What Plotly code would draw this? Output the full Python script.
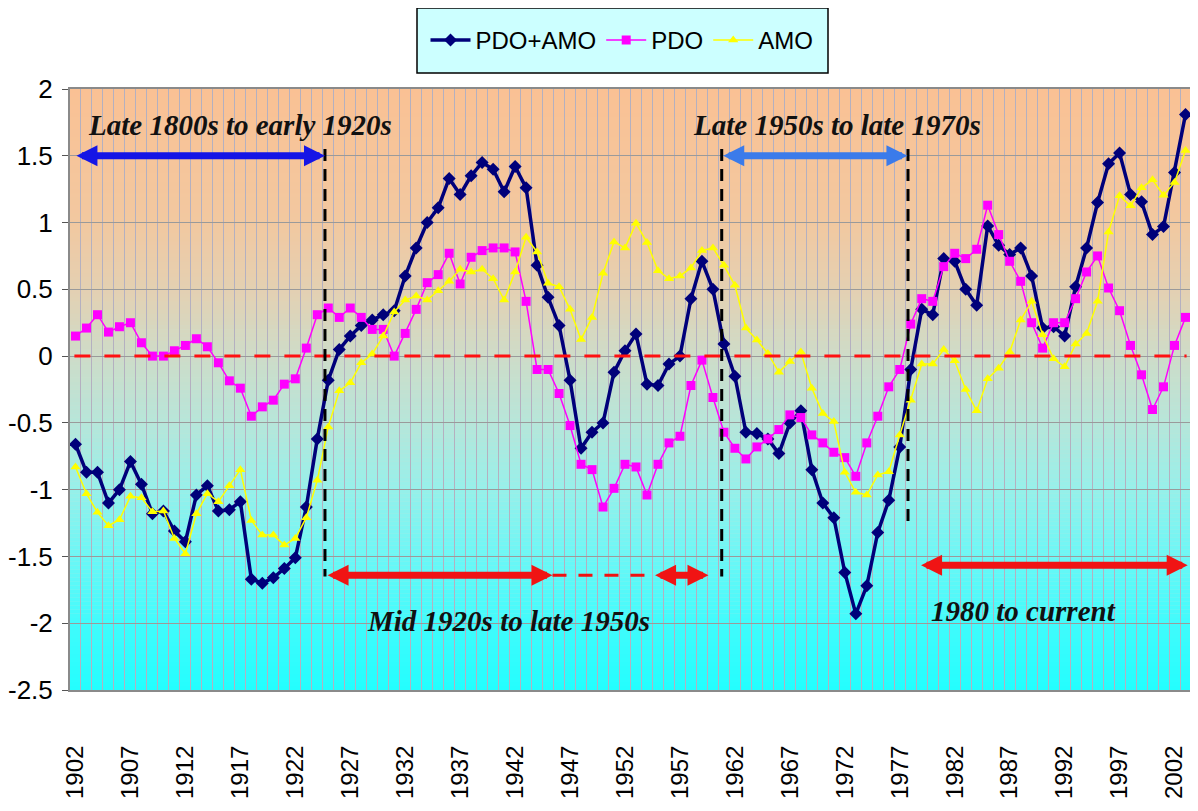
import numpy as np
import plotly.graph_objects as go

years = list(range(1902, 2004))

pdo_amo = [-0.66, -0.87, -0.87, -1.10, -1.00, -0.79, -0.96, -1.18, -1.16, -1.31,
           -1.39, -1.04, -0.97, -1.16, -1.15, -1.09, -1.67, -1.70, -1.66, -1.59,
           -1.51, -1.13, -0.62, -0.18, 0.05, 0.15, 0.23, 0.27, 0.31, 0.34,
           0.60, 0.81, 1.00, 1.11, 1.33, 1.21, 1.35, 1.45, 1.40, 1.23,
           1.42, 1.26, 0.68, 0.44, 0.23, -0.18, -0.69, -0.57, -0.50, -0.12,
           0.04, 0.165, -0.21, -0.22, -0.06, 0.00, 0.43, 0.71, 0.50, 0.09,
           -0.15, -0.57, -0.58, -0.62, -0.73, -0.50, -0.41, -0.85, -1.10, -1.21,
           -1.62, -1.93, -1.72, -1.32, -1.08, -0.68, -0.10, 0.35, 0.31, 0.73,
           0.71, 0.50, 0.38, 0.975, 0.83, 0.76, 0.81, 0.60, 0.21, 0.22,
           0.15, 0.52, 0.81, 1.15, 1.44, 1.52, 1.21, 1.155, 0.91, 0.97,
           1.375, 1.81]

pdo = [0.15, 0.21, 0.31, 0.18, 0.22, 0.25, 0.10, 0.00, 0.00, 0.04,
       0.08, 0.13, 0.07, -0.05, -0.185, -0.24, -0.45, -0.38, -0.33, -0.21,
       -0.17, 0.06, 0.31, 0.36, 0.29, 0.36, 0.29, 0.20, 0.20, 0.00,
       0.17, 0.35, 0.55, 0.61, 0.77, 0.54, 0.74, 0.79, 0.81, 0.81,
       0.78, 0.41, -0.10, -0.10, -0.28, -0.52, -0.81, -0.85, -1.13, -0.99,
       -0.81, -0.83, -1.04, -0.81, -0.65, -0.60, -0.22, -0.03, -0.31, -0.57,
       -0.69, -0.77, -0.68, -0.62, -0.55, -0.44, -0.46, -0.59, -0.65, -0.72,
       -0.76, -0.90, -0.65, -0.45, -0.23, -0.10, 0.24, 0.43, 0.41, 0.67,
       0.77, 0.73, 0.80, 1.13, 0.91, 0.71, 0.56, 0.25, 0.06, 0.25,
       0.25, 0.43, 0.63, 0.75, 0.51, 0.34, 0.08, -0.14, -0.40, -0.23,
       0.08, 0.29]

amo = [-0.83, -1.03, -1.17, -1.27, -1.225, -1.05, -1.06, -1.165, -1.16, -1.365,
       -1.48, -1.18, -1.03, -1.09, -0.97, -0.85, -1.23, -1.34, -1.34, -1.415,
       -1.365, -1.21, -0.93, -0.53, -0.26, -0.20, -0.05, 0.015, 0.15, 0.33,
       0.42, 0.45, 0.42, 0.49, 0.56, 0.65, 0.63, 0.65, 0.58, 0.42,
       0.63, 0.89, 0.78, 0.546, 0.52, 0.35, 0.125, 0.29, 0.62, 0.855,
       0.81, 0.995, 0.85, 0.64, 0.58, 0.60, 0.66, 0.79, 0.81, 0.68,
       0.53, 0.21, 0.12, 0.02, -0.12, -0.04, 0.03, -0.24, -0.43, -0.49,
       -0.87, -1.02, -1.04, -0.89, -0.865, -0.59, -0.33, -0.06, -0.06, 0.05,
       -0.035, -0.25, -0.41, -0.17, -0.09, 0.03, 0.27, 0.41, 0.16, -0.02,
       -0.08, 0.09, 0.17, 0.41, 0.93, 1.20, 1.125, 1.26, 1.32, 1.205,
       1.30, 1.54]

tick_years = list(range(1902, 2003, 5))
y_ticks = [2, 1.5, 1, 0.5, 0, -0.5, -1, -1.5, -2, -2.5]
y_ticktext = ["2", "1.5", "1", "0.5", "0", "-0.5", "-1", "-1.5", "-2", "-2.5"]

# page body has an 8px margin: figure placed at (8, 8)
W, H = 1190, 803
ML, MR, MT, MB = 62, 7, 81, 121
PW, PH = W - ML - MR, H - MT - MB

def px_x(fx):
    return (fx - 8 - ML) / PW

def px_y(fy):
    return 1 + (MT - (fy - 8)) / PH

fig = go.Figure()

fig.add_trace(go.Scatter(x=years, y=pdo_amo, name="PDO+AMO", mode="lines+markers",
                         line=dict(color="#00007A", width=3.5),
                         marker=dict(symbol="diamond", size=10, color="#00007A")))
fig.add_trace(go.Scatter(x=years, y=pdo, name="PDO", mode="lines+markers",
                         line=dict(color="#FF00FF", width=1.5),
                         marker=dict(symbol="square", size=9, color="#FF00FF")))
fig.add_trace(go.Scatter(x=years, y=amo, name="AMO", mode="lines+markers",
                         line=dict(color="#FFFF00", width=1.5),
                         marker=dict(symbol="triangle-up", size=9, color="#FFFF00")))

# gradient background (orange top -> cyan bottom)
stops_v = [2.0, 1.0, 0.5, 0.0, -0.5, -1.0, -1.5, -2.0, -2.5]
stops_c = [(250, 193, 148), (242, 200, 160), (228, 208, 178), (206, 220, 200),
           (182, 230, 218), (150, 240, 234), (108, 247, 246), (65, 251, 252), (35, 254, 254)]
shapes = []
nb = 150
edges = np.linspace(-2.5, 2.0, nb + 1)
sv = np.array(stops_v[::-1])
for i in range(nb):
    mid = 0.5 * (edges[i] + edges[i + 1])
    rgb = [int(round(np.interp(mid, sv, np.array([c[k] for c in stops_c[::-1]])))) for k in range(3)]
    shapes.append(dict(type="rect", xref="x domain", yref="y", x0=0, x1=1,
                       y0=edges[i], y1=edges[i + 1] + 0.002, layer="below",
                       fillcolor="rgb(%d,%d,%d)" % tuple(rgb), line=dict(width=0)))

# zero line
shapes.append(dict(type="line", xref="x", yref="y", x0=1901.9, x1=2003.1, y0=0, y1=0,
                   line=dict(color="#FF1010", width=3, dash="16px,14px")))
# black dashed separators
for xv, y0, y1 in [(1924.7, 1.55, -1.65), (1960.8, 1.55, -1.65), (1977.75, 1.55, -1.24)]:
    shapes.append(dict(type="line", xref="x", yref="y", x0=xv, x1=xv, y0=y0, y1=y1,
                       line=dict(color="black", width=3, dash="12px,8px")))
# red dashed connector
shapes.append(dict(type="line", xref="x", yref="y", x0=1945.4, x1=1954.6, y0=-1.64, y1=-1.64,
                   line=dict(color="#F01010", width=3, dash="14px,12px")))
# legend box
shapes.append(dict(type="rect", xref="paper", yref="paper",
                   x0=px_x(417), x1=px_x(828), y0=px_y(73), y1=px_y(8),
                   fillcolor="#CCFFFF", line=dict(color="black", width=1.5), layer="below"))

def arrow(x0, x1, y, color):
    return dict(x=x1, y=y, ax=x0, ay=y, xref="x", yref="y", axref="x", ayref="y",
                text="", showarrow=True, arrowhead=2, startarrowhead=2, arrowside="end+start",
                arrowwidth=7, arrowsize=0.6, startarrowsize=0.6, arrowcolor=color)

def label(x, y, t):
    return dict(x=x, y=y, xref="x", yref="y", text="<b><i>%s</i></b>" % t, showarrow=False,
                font=dict(family="Liberation Serif, Times New Roman, serif", size=29, color="#111111"))

annotations = [
    arrow(1901.95, 1924.7, 1.5, "#1515E6"),
    arrow(1960.8, 1977.7, 1.5, "#3B7BEA"),
    arrow(1924.8, 1945.4, -1.64, "#F01414"),
    arrow(1954.6, 1959.6, -1.64, "#F01414"),
    arrow(1978.8, 2003.2, -1.565, "#F01414"),
    label(1917.0, 1.73, "Late 1800s to early 1920s"),
    label(1971.3, 1.73, "Late 1950s to late 1970s"),
    label(1941.4, -1.98, "Mid 1920s to late 1950s"),
    label(1988.3, -1.91, "1980 to current"),
]

fig.update_layout(
    width=W, height=H,
    margin=dict(l=ML, r=MR, t=MT, b=MB),
    paper_bgcolor="white",
    plot_bgcolor="#CFE0D0",
    shapes=shapes,
    annotations=annotations,
    showlegend=True,
    legend=dict(orientation="h", x=px_x(622), xanchor="center",
                y=px_y(40.5), yanchor="middle",
                bgcolor="rgba(0,0,0,0)", borderwidth=0,
                font=dict(family="Liberation Sans Narrow, Liberation Sans, Arial", size=24, color="black"),
                itemwidth=40),
)

fig.update_xaxes(range=[1901.5, 2003.5], tickmode="array", tickvals=tick_years,
                 ticktext=[str(t) for t in tick_years], tickangle=-90,
                 tickfont=dict(family="Liberation Sans, Arial", size=24, color="black"),
                 ticks="", showgrid=False, zeroline=False, automargin=False,
                 showline=True, linecolor="#8A8A8A", linewidth=2, mirror=True,
                 ticklabelstandoff=44,
                 minor=dict(tick0=1901.5, dtick=1, showgrid=True, gridcolor="#B4B0C0", gridwidth=1))
fig.update_yaxes(range=[-2.5, 2.0], tickmode="array", tickvals=y_ticks, ticktext=y_ticktext,
                 tickfont=dict(family="Liberation Sans Narrow, Liberation Sans, Arial", size=26, color="black"),
                 ticks="outside", ticklen=6, tickcolor="#555555", automargin=False,
                 showgrid=True, gridcolor="#9A9A9A", gridwidth=1, zeroline=False,
                 showline=True, linecolor="#8A8A8A", linewidth=2, mirror=True,
                 ticklabelstandoff=4)

fig.write_html("out.html")
